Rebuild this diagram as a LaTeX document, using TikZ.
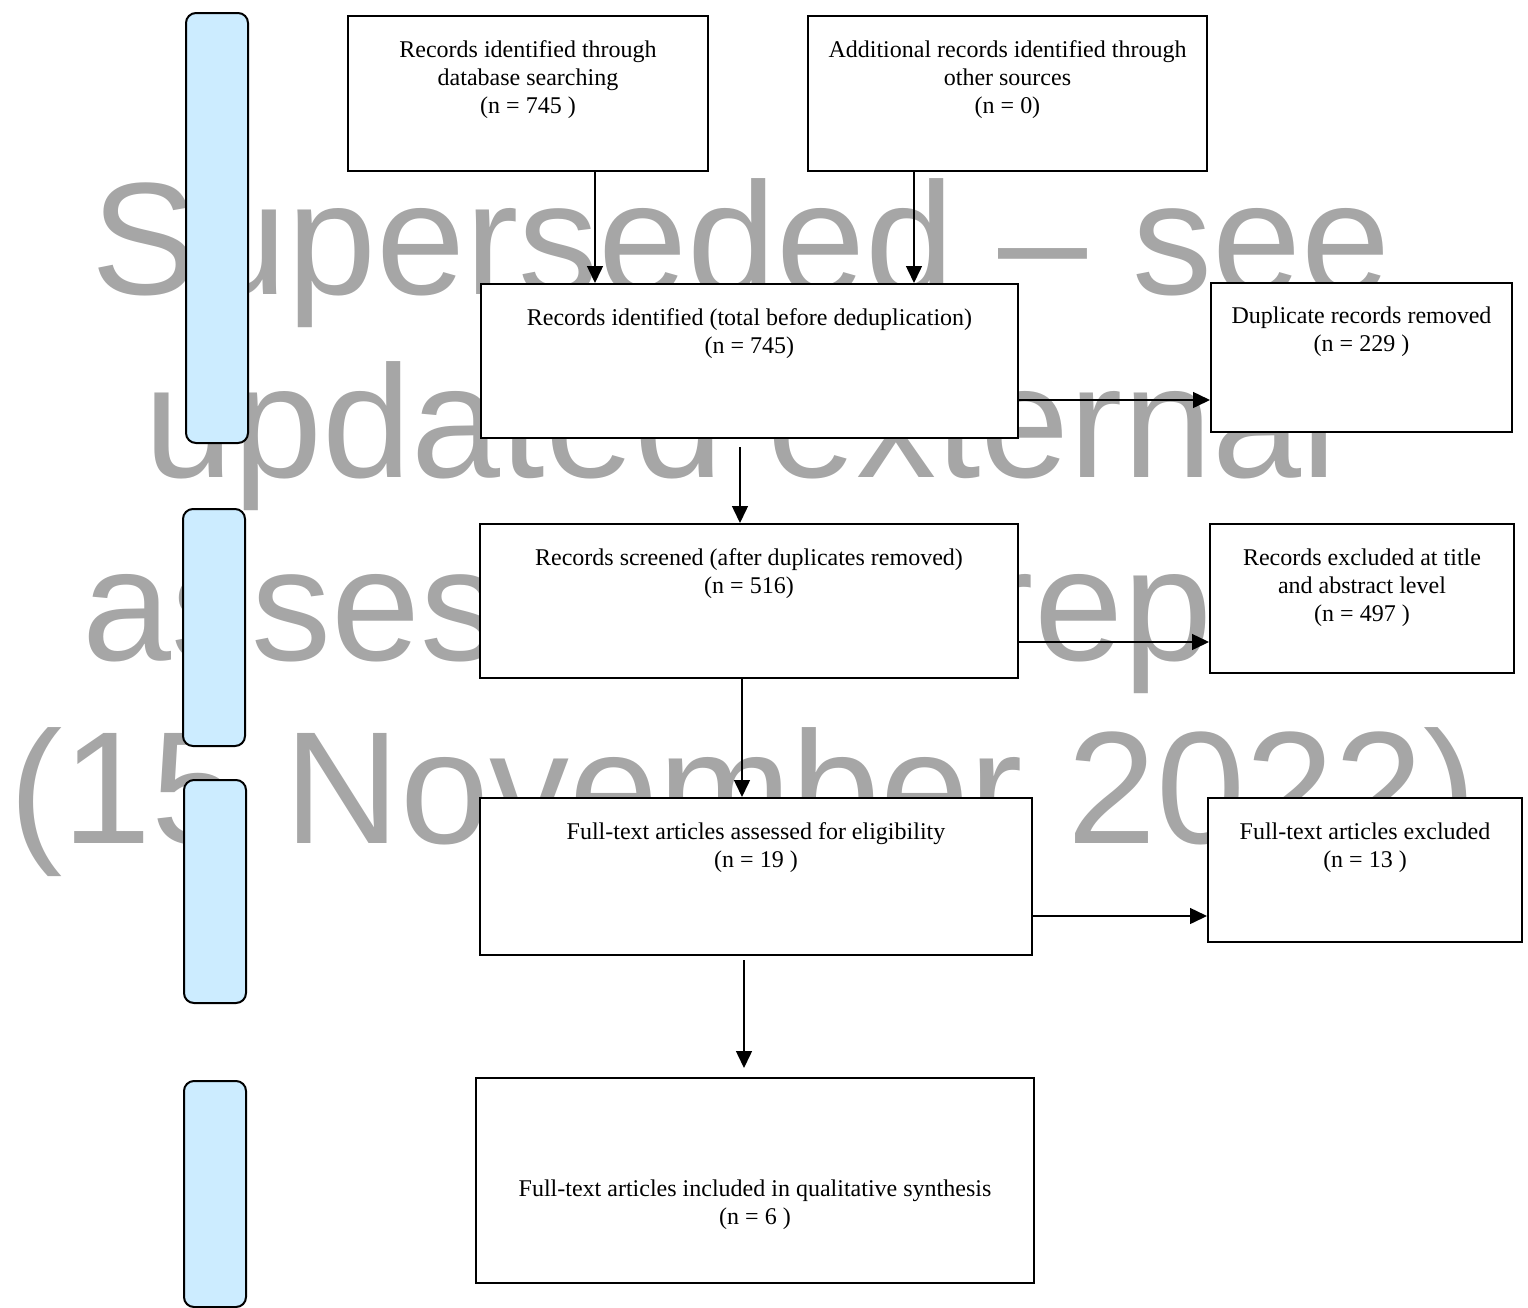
\documentclass[tikz,border=0pt]{standalone}
\usepackage{fontspec}
\setmainfont{Liberation Serif}
\newfontfamily\wmfont{Liberation Sans}
\usetikzlibrary{arrows.meta}
\definecolor{wmgray}{HTML}{A6A6A6}
\definecolor{stageblue}{HTML}{CCECFF}
\begin{document}
\begin{tikzpicture}[x=0.5pt,y=-0.5pt,
  box/.style={draw, fill=white, line width=1pt, anchor=north west, inner sep=0pt},
  stage/.style={draw, fill=stageblue, line width=1pt, rounded corners=5pt, anchor=north west, inner sep=0pt, minimum width=31pt},
  txt/.style={anchor=north, inner sep=0pt, align=center, font=\fontsize{12}{14}\selectfont},
  wm/.style={anchor=base, inner sep=0pt, text=wmgray, font=\wmfont\fontsize{80}{92}\selectfont},
  arr/.style={-{Triangle[length=8.5pt,width=8pt]}, line width=0.75pt}]
\useasboundingbox (0,0) rectangle (1528,1308);

% watermark (behind everything)
\node[wm] (wm1) at (741,294) {Superseded \textendash{} see};
\node[wm] (wm2) at (741,477) {updated external};
\node[wm] (wm3) at (741,660) {assessment report};
\node[wm] (wm4) at (743,843) {(15 November 2022)};

% stage bars
\node[stage, minimum height=215pt] (s1) at (185,12) {};
\node[stage, minimum height=118.5pt] (s2) at (182,508) {};
\node[stage, minimum height=111.5pt] (s3) at (183,779) {};
\node[stage, minimum height=113pt] (s4) at (183,1080) {};

% boxes
\node[box, minimum width=180pt, minimum height=77.5pt] (db) at (347,15) {};
\node[box, minimum width=199.5pt, minimum height=77.5pt] (oth) at (807,15) {};
\node[box, minimum width=268.5pt, minimum height=77pt] (ident) at (480,283) {};
\node[box, minimum width=150.5pt, minimum height=74.5pt] (dup) at (1210,282) {};
\node[box, minimum width=269pt, minimum height=77pt] (scr) at (479,523) {};
\node[box, minimum width=152pt, minimum height=74.5pt] (exc) at (1209,523) {};
\node[box, minimum width=276pt, minimum height=78.5pt] (full) at (479,797) {};
\node[box, minimum width=157pt, minimum height=72pt] (fexc) at (1207,797) {};
\node[box, minimum width=279pt, minimum height=102.5pt] (incl) at (475,1077) {};

% texts
\node[txt] (dbt) at ([yshift=-12.75pt]db.north) {Records identified through\\database searching\\(n = 745 )};
\node[txt] (otht) at ([yshift=-12.75pt]oth.north) {Additional records identified through\\other sources\\(n = 0)};
\node[txt] (identt) at ([yshift=-12.75pt]ident.north) {Records identified (total before deduplication)\\(n = 745)};
\node[txt] (dupt) at ([yshift=-12.25pt]dup.north) {Duplicate records removed\\(n = 229 )};
\node[txt] (scrt) at ([yshift=-12.75pt]scr.north) {Records screened (after duplicates removed)\\(n = 516)};
\node[txt] (exct) at ([yshift=-12.75pt]exc.north) {Records excluded at title\\and abstract level\\(n = 497 )};
\node[txt] (fullt) at ([yshift=-12.75pt]full.north) {Full-text articles assessed for eligibility\\(n = 19 )};
\node[txt] (fexct) at ([yshift=-12.75pt]fexc.north) {Full-text articles excluded\\(n = 13 )};
\node[txt] (inclt) at ([yshift=-51.25pt]incl.north) {Full-text articles included in qualitative synthesis\\(n = 6 )};

% connectors
\draw[arr] ([xshift=33.5pt]db.south) -- ([xshift=33.5pt]db.south |- ident.north);
\draw[arr] ([xshift=-46.75pt]oth.south) -- ([xshift=-46.75pt]oth.south |- ident.north);
\draw[arr] ([yshift=-19.5pt]ident.east) -- ([yshift=-19.5pt]ident.east -| dup.west);
\draw[arr, shorten <=4pt] ([xshift=-4.75pt]ident.south) -- ([xshift=-4.75pt]ident.south |- scr.north);
\draw[arr] ([yshift=-20.5pt]scr.east) -- ([yshift=-20.5pt]scr.east -| exc.west);
\draw[arr] ([xshift=-3.5pt]scr.south) -- ([xshift=-3.5pt]scr.south |- full.north);
\draw[arr] ([yshift=-19.75pt]full.east) -- ([yshift=-19.75pt]full.east -| fexc.west);
\draw[arr, shorten <=2pt, shorten >=4.5pt] ([xshift=-6pt]full.south) -- ([xshift=-6pt]full.south |- incl.north);
\end{tikzpicture}
\end{document}
